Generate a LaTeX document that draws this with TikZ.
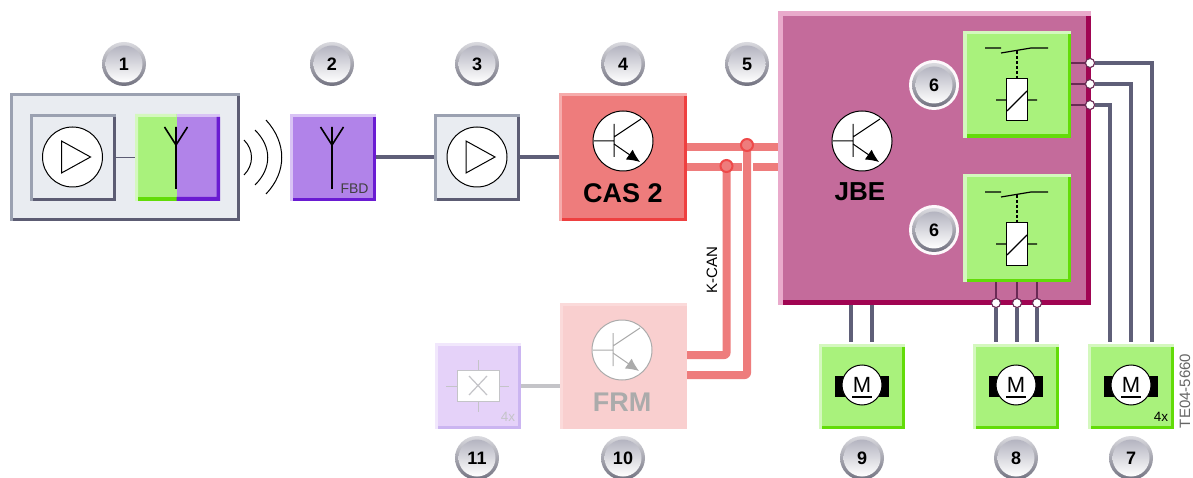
\documentclass[tikz,border=0pt]{standalone}
\usepackage{fontspec}
\setmainfont{Liberation Sans}
\usetikzlibrary{fit,arrows.meta}
\definecolor{grF}{HTML}{A9F27C}\definecolor{grL}{HTML}{D4F8BE}\definecolor{grD}{HTML}{62DC08}
\definecolor{puF}{HTML}{B183E9}\definecolor{puL}{HTML}{D9C3F5}\definecolor{puD}{HTML}{6A1BD2}
\definecolor{gyF}{HTML}{E9ECF1}\definecolor{gyL}{HTML}{9BA1B1}\definecolor{gyD}{HTML}{5C5C73}
\definecolor{reF}{HTML}{EE7C7C}\definecolor{reL}{HTML}{F6ABAB}\definecolor{reD}{HTML}{EE4040}
\definecolor{maF}{HTML}{C46B9B}\definecolor{maL}{HTML}{E9AACB}\definecolor{maD}{HTML}{A00452}
\definecolor{frF}{HTML}{F9CFCF}\definecolor{frL}{HTML}{FBDADA}\definecolor{frD}{HTML}{F9C6C6}
\definecolor{liF}{HTML}{E5D2F9}\definecolor{liL}{HTML}{F1E7FC}\definecolor{liD}{HTML}{CBB5F1}
\definecolor{wire}{HTML}{5F5F78}\definecolor{hairc}{HTML}{6A2A55}\definecolor{buscol}{HTML}{EE7C7C}
\definecolor{fade}{HTML}{ABABAB}\definecolor{faint}{HTML}{C4C4C8}
\definecolor{bdTop}{HTML}{DADADF}\definecolor{bdBot}{HTML}{727280}\definecolor{bdIn}{HTML}{B4B4C0}
\tikzset{
  boxbody/.style={rectangle,inner sep=0pt,outer sep=0pt},
  ring/.style={circle,minimum size=#1,inner sep=0pt,outer sep=0pt},
  badgehalo/.style={ring=50pt,fill=white!92!maL},
  badgeout/.style={ring=44pt,top color=bdTop,bottom color=bdBot},
  badgein/.style={ring=37pt,top color=bdIn,bottom color=white,font=\fontsize{18}{18}\selectfont\bfseries},
  busline/.style={buscol,line width=8pt,line join=round,rounded corners=2pt},
  wireline/.style={wire,line width=4pt},
  hair/.style={hairc,line width=1.4pt},
  joint/.style={ring=9pt,fill=white,draw=hairc,line width=1pt},
  busjoint/.style={ring=12pt,fill=buscol,draw=reD!85!buscol,line width=2pt},
  symbol/.style={ring=#1,fill=white,draw=black,line width=1pt},
  bigtext/.style={font=\fontsize{27}{27}\selectfont\bfseries},
  tiny/.style={font=\fontsize{13.5}{14}\selectfont,inner sep=0pt},
}
% name x1 y1 x2 y2 fill light dark width
\newcommand\bevel[9]{%
  \node[boxbody,fill=#6,fit={(#2,#3)(#4,#5)}] (#1) {};
  \fill[#7] (#2,#3) rectangle (#4,{#3+#9});
  \fill[#7] (#2,#3) rectangle ({#2+#9},#5);
  \fill[#8] ({#4-#9},{#3+#9}) rectangle (#4,#5);
  \fill[#8] ({#2+#9},{#5-#9}) rectangle (#4,#5);
}
\newcommand\badge[3]{%
  \node[badgeout] (#1o) at #2 {};
  \node[badgein] (#1) at #2 {#3};
}
\newcommand\amp[2]{% name, centre
  \node[symbol=60pt] (#1) at #2 {};
  \draw[black,line width=1pt,line join=miter,shift={#2}] (-11,-16) -- (18,0) -- (-11,16) -- cycle;
}
\newcommand\antenna[1]{%
  \draw[black,line width=1.6pt,shift={#1}] (0,0) -- (0,62) (-11.5,0) -- (0,18) -- (11.5,0);
}
\newcommand\transistor[3]{% name centre colour
  \node[ring=60pt,fill=white,draw=#3,line width=1pt] (#1) at #2 {};
  \begin{scope}[shift={#2},draw=#3,line width=1pt]
    \draw (-29,0) -- (-9,0) (-9,-17) -- (-9,16) (-9,-4) -- (18,-22);
    \draw[-{Latex[length=13pt,width=12pt]},#3] (-9,3) -- (17,21);
  \end{scope}
}
\newcommand\relay[2]{% name, y offset
  \begin{scope}[yshift=-#2pt]
    \draw[black,line width=1.2pt] (985,48) -- (1001,48) (1001,53) -- (1031,48) -- (1048,48);
    \draw[black,line width=1.2pt,dash pattern=on 3pt off 2pt] (1017,51) -- (1017,79);
    \node[boxbody,fill=white,draw=black,line width=1pt,fit={(1006.5,79)(1027,121)}] (#1c) {};
    \draw[black,line width=1.2pt] (996,100) -- (1006.5,100) (1027,100) -- (1037,100) (1007,111) -- (1027,91);
  \end{scope}
}
\newcommand\motor[2]{% name, centre x
  \fill[black] ({#2-27},376) rectangle ({#2+27},397);
  \node[ring=40pt,fill=white,draw=black,line width=1pt,font=\fontsize{22}{22}\selectfont] (#1) at (#2,385) {M};
  \draw[black,line width=1.3pt] ({#2-10},397) -- ({#2+10},397);
}
\begin{document}
\begin{tikzpicture}[x=1pt,y=-1pt]
\useasboundingbox (0,0) rectangle (1193,478);
\fill[white] (0,0) rectangle (1193,478);
% --- module 1
\bevel{boxa}{10}{93}{240}{221}{gyF}{gyL}{gyD}{3}
\bevel{amp1box}{30}{114}{116}{201}{gyF}{gyL}{gyD}{3}
\amp{amp1}{(72.5,157)}
\node[boxbody,fill=grF,fit={(135,114)(176.5,201)}] (ant1g) {};
\node[boxbody,fill=puF,fit={(176.5,114)(220,201)}] (ant1p) {};
\fill[grL] (135,114) rectangle (176.5,117) (135,114) rectangle (138,201);
\fill[puL] (176.5,114) rectangle (220,117);
\fill[grD] (138,197) rectangle (176.5,201);
\fill[puD] (176.5,197) rectangle (220,201) (216.5,117) rectangle (220,201);
\antenna{(176,127)}
\draw[gyD,line width=1pt] (amp1box.east) -- (ant1g.west);
% waves
\draw[black,line width=1pt] (244,140) .. controls (254,150) and (254,165) .. (244,175);
\draw[black,line width=1pt] (255,130) .. controls (272,147) and (272,168) .. (255,185);
\draw[black,line width=1pt] (266,120) .. controls (287,143) and (287,172) .. (266,194);
% --- module 2
\bevel{boxb}{290}{114}{376}{201}{puF}{puL}{puD}{3}
\antenna{(332,127)}
\node[font=\fontsize{14}{14}\selectfont,inner sep=0pt,text=black!75] (fbd) at (354.5,189) {FBD};
% --- module 3
\bevel{boxc}{434}{114}{520}{201}{gyF}{gyL}{gyD}{3}
\amp{amp3}{(477,157)}
\draw[wireline] (boxb.east) -- (boxc.west);
% --- CAS
\bevel{cas}{559}{93}{687}{221}{reF}{reL}{reD}{3}
\draw[wireline] (boxc.east) -- (cas.west |- boxc.east);
\transistor{castr}{(623,141)}{black}
\node[bigtext,inner sep=0pt] (castxt) at (623,193) {CAS 2};
% --- FRM
\bevel{frm}{560}{303}{687}{429}{frF}{frL}{frF}{3}
\transistor{frmtr}{(622,350)}{fade}
\node[bigtext,text=fade,inner sep=0pt] (frmtxt) at (622,402) {FRM};
% --- light module
\bevel{lamp}{435}{343}{521}{429}{liF}{liL}{liD}{3}
\node[boxbody,fill=white,draw=faint,line width=1pt,fit={(457,370)(499,401)}] (lampc) {};
\draw[faint,line width=1pt] (446,386) -- (457,386) (499,386) -- (509,386) (478,360) -- (478,370) (478,401) -- (478,412);
\draw[faint,line width=1.2pt] (469,376) -- (487,395) (487,376) -- (469,395);
\node[tiny,text=faint] (lamp4x) at (508,417) {4x};
\draw[faint,line width=4pt] (lamp.east |- lampc) -- (frm.west |- lampc);
% --- JBE
\bevel{jbe}{778}{11}{1091}{305}{maF}{maL}{maD}{5}
\transistor{jbetr}{(862,141)}{black}
\node[font=\fontsize{26}{26}\selectfont\bfseries,inner sep=0pt] (jbetxt) at (860,192) {JBE};
\bevel{rel1}{963}{31}{1071}{138}{grF}{grL}{grD}{3.5}
\bevel{rel2}{963}{174}{1071}{282}{grF}{grL}{grD}{3.5}
\relay{r1}{0}
\relay{r2}{144}
% --- motors
\bevel{m9}{819}{344}{905}{429}{grF}{grL}{grD}{3}
\bevel{m8}{973}{344}{1059}{429}{grF}{grL}{grD}{3}
\bevel{m7}{1088}{344}{1174}{429}{grF}{grL}{grD}{3}
\motor{m9s}{862}\motor{m8s}{1016}\motor{m7s}{1131}
\node[tiny] (m74x) at (1161,417) {4x};
% --- K-CAN bus
\coordinate (b1) at (747,147);
\coordinate (b2) at (726.5,167);
\coordinate (f1) at (747,375);
\coordinate (f2) at (726.5,355);
\draw[buscol,line width=8pt] (cas.east |- b1) -- (jbe.west |- b1);
\draw[buscol,line width=8pt] (cas.east |- b2) -- (jbe.west |- b2);
\fill[white] (741.5,160) rectangle (753,175);
\draw[busline] (b1) -- (f1) -- (frm.east |- f1);
\draw[busline] (b2) -- (f2) -- (frm.east |- f2);
\node[busjoint] (j1) at (747,145) {};
\node[busjoint] (j2) at (726.5,166) {};
\node[font=\fontsize{15}{15}\selectfont,inner sep=0pt,rotate=90] (kcan) at (712,270) {K-CAN};
% --- wires from JBE to motors
\coordinate (a9) at (851,342);
\coordinate (b9) at (872,342);
\draw[wireline] (a9 |- jbe.south) -- (a9);
\draw[wireline] (b9 |- jbe.south) -- (b9);
% top relay to motor 7
\coordinate (t1) at (1152,342);
\coordinate (t2) at (1131,342);
\coordinate (t3) at (1110,342);
\node[joint] (o1) at (1090,63) {};
\node[joint] (o2) at (1090,84) {};
\node[joint] (o3) at (1090,105) {};
\draw[wireline,line join=miter] (o1) -- (t1 |- o1) -- (t1);
\draw[wireline,line join=miter] (o2) -- (t2 |- o2) -- (t2);
\draw[wireline,line join=miter] (o3) -- (t3 |- o3) -- (t3);
\draw[hair] (rel1.east |- o1) -- (o1);
\draw[hair] (rel1.east |- o2) -- (o2);
\draw[hair] (rel1.east |- o3) -- (o3);
% bottom relay to motor 8
\coordinate (v1) at (996,342);
\coordinate (v2) at (1017,342);
\coordinate (v3) at (1037,342);
\node[joint] (u1) at (996,303) {};
\node[joint] (u2) at (1017,303) {};
\node[joint] (u3) at (1037,303) {};
\draw[wireline] (u1) -- (v1);
\draw[wireline] (u2) -- (v2);
\draw[wireline] (u3) -- (v3);
\draw[hair] (u1 |- rel2.south) -- (u1);
\draw[hair] (u2 |- rel2.south) -- (u2);
\draw[hair] (u3 |- rel2.south) -- (u3);
% --- code
\node[rotate=90,inner sep=0pt,text=black!60,font=\fontsize{15}{15}\selectfont] (code) at (1185,391) {TE04-5660};
% --- badges
\node[badgehalo] (h6a) at (934,85) {};
\node[badgehalo] (h6b) at (934,230) {};
\badge{n1}{(124,64)}{1}
\badge{n2}{(332,64)}{2}
\badge{n3}{(477,64)}{3}
\badge{n4}{(623,64)}{4}
\badge{n5}{(747,64)}{5}
\badge{n6a}{(934,85)}{6}
\badge{n6b}{(934,230)}{6}
\badge{n7}{(1131,458)}{7}
\badge{n8}{(1016,458)}{8}
\badge{n9}{(862,458)}{9}
\badge{n10}{(623,458)}{10}
\badge{n11}{(477,458)}{11}
\foreach \n in {o1,o2,o3,u1,u2,u3}{\node[joint] at (\n) {};}
\end{tikzpicture}
\end{document}
